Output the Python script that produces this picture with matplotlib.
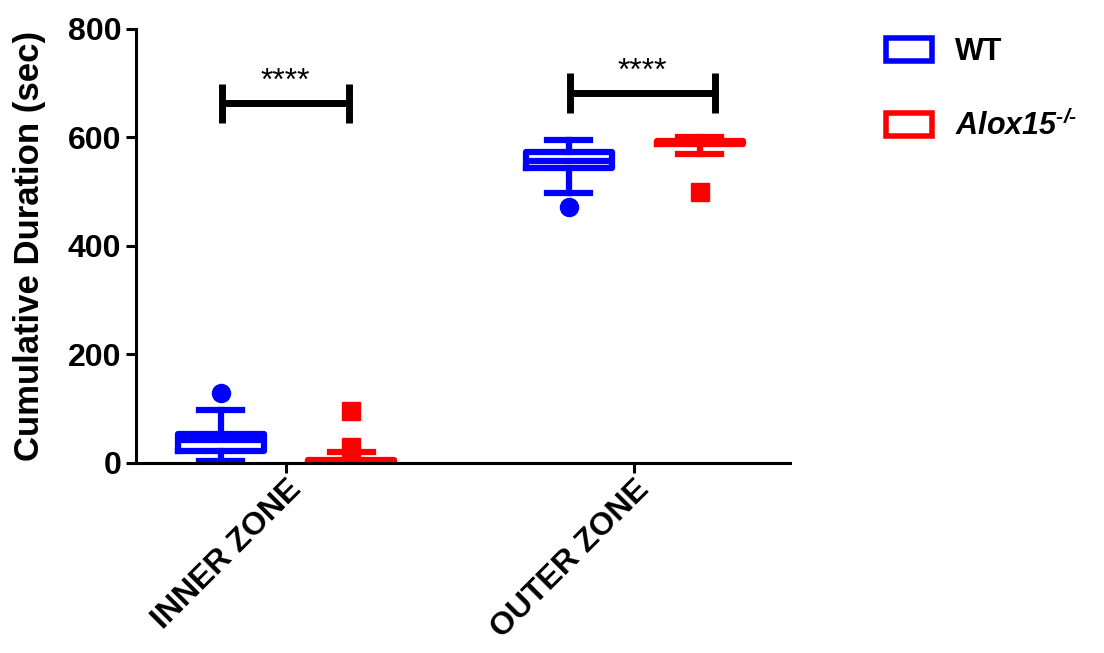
import matplotlib as mpl
import matplotlib.pyplot as plt
from matplotlib import font_manager as fm
from matplotlib.patches import Rectangle

# keep the regular-width Liberation Sans, not the Narrow cut
fm.fontManager.ttflist = [f for f in fm.fontManager.ttflist if 'Narrow' not in f.fname]

mpl.rcParams['font.family'] = 'Liberation Sans'
mpl.rcParams['font.weight'] = 'bold'
mpl.rcParams['mathtext.fontset'] = 'custom'
mpl.rcParams['mathtext.rm'] = 'Liberation Sans:bold:italic'

# zones and genotypes
zones = ["INNER ZONE", "OUTER ZONE"]
groups = ["WT", "Alox15"]
colors = {"WT": "#0000FF", "Alox15": "#FF0000"}
markers = {"WT": "o", "Alox15": "s"}

# box summary per zone
wt_whislo = [4, 498]
wt_q1 = [22, 544]
wt_med = [42, 557]
wt_q3 = [53, 573]
wt_whishi = [98, 595]
wt_fliers = [[129], [472]]

ko_whislo = [0, 570]
ko_q1 = [0, 588]
ko_med = [2, 591]
ko_q3 = [6, 594]
ko_whishi = [20, 601]
ko_fliers = [[30, 96], [500]]

# significance brackets
sig_labels = ["****", "****"]
bracket_x = [(0.816, 1.181), (1.816, 2.233)]
bracket_y = [663, 682]

stats = {
    "WT": [dict(whislo=wt_whislo[i], q1=wt_q1[i], med=wt_med[i], q3=wt_q3[i],
                whishi=wt_whishi[i], fliers=wt_fliers[i]) for i in range(2)],
    "Alox15": [dict(whislo=ko_whislo[i], q1=ko_q1[i], med=ko_med[i], q3=ko_q3[i],
                    whishi=ko_whishi[i], fliers=ko_fliers[i]) for i in range(2)],
}
offsets = {"WT": -0.188, "Alox15": 0.188}

fig = plt.figure(figsize=(11.04, 6.53), dpi=100)
ax = fig.add_axes([0.1232, 0.291, 0.5924, 0.6646])

lw = 4.5
for g in groups:
    c = colors[g]
    pos = [i + 1 + offsets[g] for i in range(len(zones))]
    ax.bxp(stats[g], positions=pos, widths=0.247, capwidths=0.124,
           boxprops=dict(color=c, linewidth=lw),
           whiskerprops=dict(color=c, linewidth=lw),
           capprops=dict(color=c, linewidth=lw),
           medianprops=dict(color=c, linewidth=lw),
           flierprops=dict(marker=markers[g], markerfacecolor=c, markeredgecolor=c,
                           markersize=13, linestyle="none"),
           manage_ticks=False)

# brackets with stars
for (x0, x1), y, lab in zip(bracket_x, bracket_y, sig_labels):
    ax.plot([x0, x1], [y, y], color="black", lw=5, solid_capstyle="butt", clip_on=False)
    ax.plot([x0, x0], [y - 36, y + 36], color="black", lw=5, solid_capstyle="butt", clip_on=False)
    ax.plot([x1, x1], [y - 36, y + 36], color="black", lw=5, solid_capstyle="butt", clip_on=False)
    ax.text((x0 + x1) / 2, y + 12, lab, ha="center", va="bottom", fontsize=23,
            fontweight="normal")

ax.set_xlim(0.569, 2.448)
ax.set_ylim(0, 800)
ax.set_yticks([0, 200, 400, 600, 800])
ax.set_xticks([1, 2])
ax.set_xticklabels(zones, rotation=45, ha="right", va="top", rotation_mode="anchor",
                   fontsize=23, fontweight="bold")
ax.tick_params(axis="x", pad=1)
for lab in ax.get_yticklabels():
    lab.set_fontsize(23)
    lab.set_fontweight("bold")
ax.tick_params(width=2.2, length=7)
ax.set_ylabel("Cumulative Duration (sec)", fontsize=25, fontweight="bold", labelpad=16)

for s in ["top", "right"]:
    ax.spines[s].set_visible(False)
for s in ["left", "bottom"]:
    ax.spines[s].set_linewidth(2.2)

handles = [Rectangle((0, 0), 1, 1, facecolor="white", edgecolor=colors[g], linewidth=4)
           for g in groups]
labels = ["WT", r"Alox15$^{\text{-/-}}$"]
leg = fig.legend(handles, labels, loc="upper left", bbox_to_anchor=(0.778, 0.985),
                 frameon=False, fontsize=22, handlelength=1.5, handleheight=0.75,
                 handletextpad=0.75, labelspacing=1.4)
leg.get_texts()[0].set_fontweight("bold")
leg.get_texts()[1].set_fontweight("bold")
leg.get_texts()[1].set_fontstyle("italic")

fig.savefig("out.png", dpi=100)
